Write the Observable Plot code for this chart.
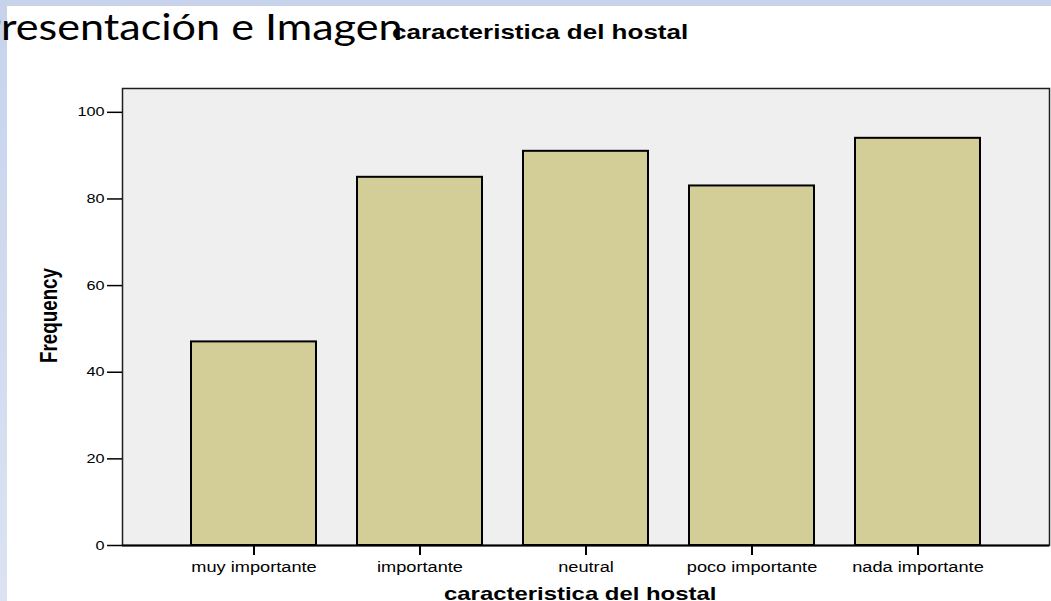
<!DOCTYPE html>
<html>
<head>
<meta charset="utf-8">
<script src="https://cdn.jsdelivr.net/npm/d3@7"></script>
<script src="https://cdn.jsdelivr.net/npm/@observablehq/plot@0.6"></script>
<style>
  html, body { margin: 0; padding: 0; background: #fff; overflow: hidden; }
  #page { position: relative; width: 1051px; height: 601px; overflow: hidden; background: #fff; }
  .band-top { position: absolute; left: 0; top: 0; width: 1051px; height: 6px; background: #c6d3eb; }
  .band-left { position: absolute; left: 0; top: 0; width: 7px; height: 601px; background: linear-gradient(#c6d3eb, #dbe3f2); }
  .layer { position: absolute; left: 0; top: 0; pointer-events: none; }
</style>
</head>
<body>
<div id="page">
  <div class="band-top"></div>
  <div class="band-left"></div>
</div>
<script>
// Frequencies per answer category
const categories = ["muy importante", "importante", "neutral", "poco importante", "nada importante"];
const frequencies = [47, 85, 91, 83, 94];
const yTicks = [0, 20, 40, 60, 80, 100];

const slideTitle = "Presentación e Imagen";
const chartTitle = "caracteristica del hostal";
const xTitle = "caracteristica del hostal";
const yTitle = "Frequency";

const FONT = "'Liberation Sans', Arial, Helvetica, sans-serif";
const SX = 1.3;        // horizontal stretch of the chart lettering
const SLIDE_SX = 1.15; // horizontal stretch of the slide heading

const page = document.getElementById("page");

// Slide heading, sitting underneath the chart
const slide = d3.create("svg")
  .attr("class", "layer")
  .attr("width", 1051).attr("height", 601);
const heading = slide.append("text")
  .attr("font-family", "Lato, 'Open Sans', sans-serif")
  .attr("font-size", 37.5)
  .attr("fill", "#000")
  .text(slideTitle);
page.appendChild(slide.node());
const firstLetter = heading.node().getSubStringLength(0, 1);
heading.attr("transform", `translate(${1 - firstLetter * SLIDE_SX},39.8) scale(${SLIDE_SX},1)`);

// Bar chart
const rows = categories.map((c, i) => ({categoria: c, frecuencia: frequencies[i]}));

const chart = Plot.plot({
  width: 1051,
  height: 601,
  marginLeft: 122,
  marginRight: 2,
  marginTop: 88,
  marginBottom: 56,
  style: {background: "transparent", fontFamily: FONT, color: "#000"},
  x: {type: "band", domain: categories, paddingInner: 0.246, paddingOuter: 0.4, label: null},
  y: {domain: [0, 105.5], label: null},
  marks: [
    Plot.frame({fill: "#efefef", stroke: "#1e1e1e", strokeWidth: 1.5}),
    Plot.barY(rows, {x: "categoria", y: "frecuencia", fill: "#d3ce98", stroke: "#000", strokeWidth: 2}),
    Plot.ruleY([0], {stroke: "#000", strokeWidth: 2}),
    Plot.ruleX([0], {frameAnchor: "left", stroke: "#000", strokeWidth: 2}),
    Plot.axisY(yTicks, {tickSize: 15, tickPadding: 3, fontSize: 12.5, strokeWidth: 1.5, label: null}),
    Plot.axisX({tickSize: 10, tickPadding: 7, fontSize: 14, strokeWidth: 2, label: null})
  ]
});
chart.classList.add("layer");
page.appendChild(chart);

// widen every tick label along its baseline, keeping its anchor
chart.querySelectorAll("text").forEach(t => {
  const w = t.getComputedTextLength();
  if (w > 0) {
    t.setAttribute("textLength", w * SX);
    t.setAttribute("lengthAdjust", "spacingAndGlyphs");
  }
});

// Chart title and axis titles
const labels = d3.create("svg")
  .attr("class", "layer")
  .attr("width", 1051).attr("height", 601)
  .attr("font-family", FONT)
  .attr("font-weight", "bold")
  .attr("fill", "#000");
labels.append("text")
  .attr("transform", `translate(392,39.3) scale(${SX},1)`)
  .attr("font-size", 20)
  .text(chartTitle);
labels.append("text")
  .attr("transform", `translate(444,600) scale(${SX},1)`)
  .attr("font-size", 18.4)
  .text(xTitle);
labels.append("text")
  .attr("transform", `translate(56.7,315.5) rotate(-90) scale(1,${SX})`)
  .attr("text-anchor", "middle")
  .attr("font-size", 18.8)
  .text(yTitle);
page.appendChild(labels.node());
</script>
</body>
</html>
